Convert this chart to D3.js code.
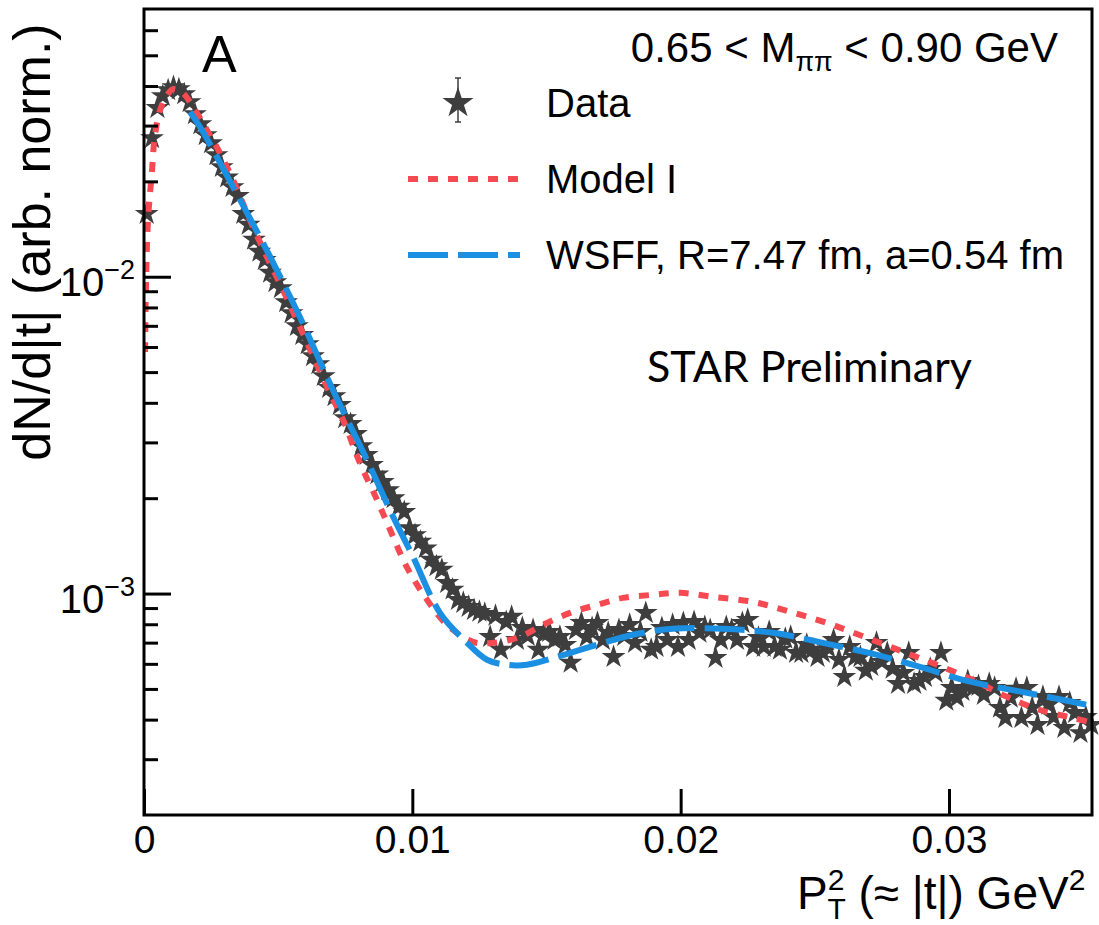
<!DOCTYPE html>
<html lang="en">
<head>
<meta charset="UTF-8">
<title>dN/d|t| vs pT2</title>
<script src="https://cdn.jsdelivr.net/npm/d3@7"></script>
<style>
    body { margin: 0; background: #fff; }
    text { font-family: "Liberation Sans", Arial, Helvetica, sans-serif; fill: #000; }
</style>
</head>
<body>
<div id="chart"></div>
<script>
// measured points, t in GeV^2, dN/d|t| arb. norm.
var dataT = [0.0001, 0.0003, 0.0005, 0.0007, 0.0009, 0.0011, 0.0013, 0.0015, 0.0017, 0.0019,
    0.0021, 0.0023, 0.0025, 0.0027, 0.0029, 0.0031, 0.0033, 0.0035, 0.0037, 0.0039,
    0.0041, 0.0043, 0.0045, 0.0047, 0.0049, 0.0051, 0.0053, 0.0055, 0.0057, 0.0059,
    0.0061, 0.0063, 0.0065, 0.0067, 0.0069, 0.0071, 0.0073, 0.0075, 0.0077, 0.0079,
    0.0081, 0.0083, 0.0085, 0.0087, 0.0089, 0.0091, 0.0093, 0.0095, 0.0097, 0.0099,
    0.0101, 0.0103, 0.0105, 0.0107, 0.0109, 0.0111, 0.0113, 0.0115, 0.0117, 0.0119,
    0.0121, 0.0123, 0.0125, 0.0127, 0.0129, 0.0131, 0.0133, 0.0135, 0.0137, 0.0139,
    0.0141, 0.0143, 0.0145, 0.0147, 0.0149, 0.0151, 0.0153, 0.0155, 0.0157, 0.0159,
    0.0161, 0.0163, 0.0165, 0.0167, 0.0169, 0.0171, 0.0173, 0.0175, 0.0177, 0.0179,
    0.0181, 0.0183, 0.0185, 0.0187, 0.0189, 0.0191, 0.0193, 0.0195, 0.0197, 0.0199,
    0.0201, 0.0203, 0.0205, 0.0207, 0.0209, 0.0211, 0.0213, 0.0215, 0.0217, 0.0219,
    0.0221, 0.0223, 0.0225, 0.0227, 0.0229, 0.0231, 0.0233, 0.0235, 0.0237, 0.0239,
    0.0241, 0.0243, 0.0245, 0.0247, 0.0249, 0.0251, 0.0253, 0.0255, 0.0257, 0.0259,
    0.0261, 0.0263, 0.0265, 0.0267, 0.0269, 0.0271, 0.0273, 0.0275, 0.0277, 0.0279,
    0.0281, 0.0283, 0.0285, 0.0287, 0.0289, 0.0291, 0.0293, 0.0295, 0.0297, 0.0299,
    0.0301, 0.0303, 0.0305, 0.0307, 0.0309, 0.0311, 0.0313, 0.0315, 0.0317, 0.0319,
    0.0321, 0.0323, 0.0325, 0.0327, 0.0329, 0.0331, 0.0333, 0.0335, 0.0337, 0.0339,
    0.0341, 0.0343, 0.0345, 0.0347, 0.0349, 0.0351, 0.0353];
var dataV = [0.0158, 0.0274, 0.0341, 0.0372, 0.0388, 0.0397, 0.0391, 0.0377, 0.0356, 0.0326,
    0.0303, 0.0280, 0.0264, 0.0242, 0.0222, 0.0206, 0.0192, 0.0180, 0.0158, 0.0146,
    0.0131, 0.0120, 0.0113, 0.0103, 0.00962, 0.00921, 0.00832, 0.00768, 0.00699, 0.00655,
    0.00613, 0.00562, 0.00530, 0.00486, 0.00446, 0.00420, 0.00394, 0.00358, 0.00343, 0.00319,
    0.00292, 0.00274, 0.00255, 0.00238, 0.00225, 0.00212, 0.00200, 0.00188, 0.00181, 0.00161,
    0.00153, 0.00146, 0.00139, 0.00128, 0.00122, 0.00119, 0.00108, 0.00103, 0.000955, 0.000935,
    0.000908, 0.000888, 0.000876, 0.000863, 0.000730, 0.000851, 0.000665, 0.000814, 0.000845, 0.000714,
    0.000779, 0.000735, 0.000768, 0.000665, 0.000746, 0.000757, 0.000714, 0.000730, 0.000689, 0.000605,
    0.000768, 0.000808, 0.000730, 0.000779, 0.000808, 0.000714, 0.000752, 0.000631, 0.000768, 0.000735,
    0.000797, 0.000699, 0.000757, 0.000869, 0.000665, 0.000679, 0.000779, 0.000714, 0.000797, 0.000679,
    0.000808, 0.000714, 0.000814, 0.000752, 0.000785, 0.000768, 0.000627, 0.000714, 0.000785, 0.000768,
    0.000714, 0.000808, 0.000826, 0.000679, 0.000725, 0.000679, 0.000757, 0.000679, 0.000665, 0.000720,
    0.000730, 0.000650, 0.000650, 0.000689, 0.000665, 0.000631, 0.000650, 0.000674, 0.000714, 0.000618,
    0.000546, 0.000679, 0.000631, 0.000631, 0.000571, 0.000591, 0.000699, 0.000609, 0.000650, 0.000579,
    0.000519, 0.000562, 0.000650, 0.000519, 0.000530, 0.000546, 0.000579, 0.000562, 0.000650, 0.000459,
    0.000504, 0.000469, 0.000493, 0.000530, 0.000504, 0.000511, 0.000479, 0.000519, 0.000504, 0.000436,
    0.000405, 0.000469, 0.000501, 0.000405, 0.000504, 0.000436, 0.000385, 0.000472, 0.000446, 0.000408,
    0.000472, 0.000377, 0.000452, 0.000420, 0.000363, 0.000408, 0.000385];

// Model I curve
var modelT = [0.00004, 0.00007, 0.00015, 0.0003, 0.0004, 0.0006, 0.00086, 0.00108, 0.00145, 0.00183,
    0.00235, 0.00283, 0.00332, 0.00395, 0.00458, 0.00518, 0.00581, 0.00682, 0.00742, 0.00805,
    0.00868, 0.00917, 0.0098, 0.01055, 0.01129, 0.01226, 0.01301, 0.01401, 0.01487, 0.01588,
    0.01688, 0.01785, 0.01897, 0.01998, 0.0212, 0.0227, 0.02408, 0.02545, 0.02694, 0.02829,
    0.02955, 0.03089, 0.03216, 0.03339, 0.03462, 0.03533];
var modelV = [0.00579, 0.00908, 0.0151, 0.0217, 0.0276, 0.0336, 0.0374, 0.0391, 0.0380, 0.0343,
    0.0290, 0.0246, 0.0202, 0.0151, 0.01154, 0.00908, 0.00694, 0.00449, 0.00353, 0.00258,
    0.00198, 0.00159, 0.00121, 0.000955, 0.000797, 0.000704, 0.000699, 0.000730, 0.000797, 0.000869,
    0.000921, 0.000969, 0.000991, 0.001005, 0.000976, 0.000941, 0.000876, 0.000808, 0.000725, 0.000655,
    0.000596, 0.000534, 0.000472, 0.000429, 0.000405, 0.000391];

// WSFF fit curve
var wsffT = [0.00171, 0.00209, 0.00332, 0.00458, 0.00581, 0.00704, 0.00831, 0.00928, 0.01002, 0.01103,
    0.01204, 0.01278, 0.01353, 0.01427, 0.01539, 0.01688, 0.01822, 0.01971, 0.02158, 0.02344,
    0.0253, 0.02717, 0.02892, 0.03067, 0.03253, 0.0344, 0.03533];
var wsffV = [0.0331, 0.0297, 0.0192, 0.0121, 0.00746, 0.00439, 0.00264, 0.00175, 0.00131, 0.000869,
    0.000699, 0.000618, 0.000596, 0.000596, 0.000631, 0.000689, 0.000741, 0.000774, 0.000774, 0.000752,
    0.000699, 0.000645, 0.000587, 0.000530, 0.000493, 0.000459, 0.000442];

var xTicks = [0, 0.01, 0.02, 0.03];
var yMajor = [1e-2, 1e-3];
var yMinor = [3e-4, 4e-4, 5e-4, 6e-4, 7e-4, 8e-4, 9e-4,
    2e-3, 3e-3, 4e-3, 5e-3, 6e-3, 7e-3, 8e-3, 9e-3,
    2e-2, 3e-2, 4e-2, 5e-2, 6e-2];
var yExp = {"0.01": "\u22122", "0.001": "\u22123"};

var width = 1099, height = 925;

var svg = d3.select("#chart").append("svg")
    .attr("width", width)
    .attr("height", height);

var x = d3.scaleLinear().domain([0, 0.03533]).range([144, 1092]);
var y = d3.scaleLog().domain([2e-4, 0.07]).range([815, 9]);

svg.append("clipPath").attr("id", "plot")
    .append("rect")
    .attr("x", x.range()[0]).attr("y", y.range()[1])
    .attr("width", x.range()[1] - x.range()[0])
    .attr("height", y.range()[0] - y.range()[1]);

// data stars
var starColor = "#3e3e3e";
svg.append("g")
    .selectAll("path")
    .data(d3.range(dataT.length))
    .enter()
    .append("path")
    .attr("transform", function (i) {
        return "translate(" + x(dataT[i]) + "," + y(dataV[i]) + ")";
    })
    .attr("d", d3.symbol(d3.symbolStar, 175))
    .attr("fill", starColor);

// curves
var line = d3.line()
    .x(function (d) { return x(d[0]); })
    .y(function (d) { return y(d[1]); })
    .curve(d3.curveCatmullRom.alpha(0.5));

var curves = svg.append("g").attr("clip-path", "url(#plot)");

curves.append("path")
    .datum(d3.zip(modelT, modelV))
    .attr("d", line)
    .attr("fill", "none")
    .attr("stroke", "#f64a53")
    .attr("stroke-width", 6)
    .attr("stroke-dasharray", "10,10");

curves.append("path")
    .datum(d3.zip(wsffT, wsffV))
    .attr("d", line)
    .attr("fill", "none")
    .attr("stroke", "#1b8fe1")
    .attr("stroke-width", 6)
    .attr("stroke-dasharray", "40,10");

// axes
var xAxis = svg.append("g")
    .attr("transform", "translate(0," + y.range()[0] + ")")
    .call(d3.axisBottom(x).tickValues(xTicks).tickSize(-26).tickPadding(10)
        .tickFormat(function (d) { return d === 0 ? "0" : d3.format(".2f")(d); }));
xAxis.select(".domain").remove();
xAxis.selectAll(".tick line").attr("stroke", "#000").attr("stroke-width", 3);
xAxis.selectAll(".tick text").style("font-size", "39px").attr("fill", "#000");

var yAxisMinor = svg.append("g")
    .attr("transform", "translate(" + x.range()[0] + ",0)")
    .call(d3.axisLeft(y).tickValues(yMinor).tickSize(-14).tickFormat(""));
yAxisMinor.select(".domain").remove();
yAxisMinor.selectAll(".tick line").attr("stroke", "#000").attr("stroke-width", 3);

var yAxis = svg.append("g")
    .attr("transform", "translate(" + x.range()[0] + ",0)")
    .call(d3.axisLeft(y).tickValues(yMajor).tickSize(-27).tickPadding(9).tickFormat(""));
yAxis.select(".domain").remove();
yAxis.selectAll(".tick line").attr("stroke", "#000").attr("stroke-width", 3);
yAxis.selectAll(".tick text")
    .attr("dy", "19px")
    .style("font-size", "40px")
    .attr("fill", "#000")
    .each(function (d) {
        var t = d3.select(this);
        t.append("tspan").text("10");
        t.append("tspan").attr("dy", "-17px").style("font-size", "27px").text(yExp[String(d)]);
    });

// frame
svg.append("rect")
    .attr("x", x.range()[0]).attr("y", y.range()[1])
    .attr("width", x.range()[1] - x.range()[0])
    .attr("height", y.range()[0] - y.range()[1])
    .attr("fill", "none")
    .attr("stroke", "#000")
    .attr("stroke-width", 3);

// axis titles
var xTitle = svg.append("text")
    .attr("x", 797).attr("y", 909)
    .style("font-size", "46px");
xTitle.append("tspan").text("P");
xTitle.append("tspan").attr("dy", -19).style("font-size", "30px").text("2");
xTitle.append("tspan").attr("dx", -17).attr("dy", 29).style("font-size", "30px").text("T");
xTitle.append("tspan").attr("dy", -10).text(" (\u2248 |t|) GeV");
xTitle.append("tspan").attr("dy", -19).style("font-size", "30px").text("2");

svg.append("text")
    .attr("transform", "translate(50,242) rotate(-90)")
    .attr("text-anchor", "middle")
    .style("font-size", "52px")
    .text("dN/d|t| (arb. norm.)");

// labels
svg.append("text")
    .attr("x", 202).attr("y", 72)
    .style("font-size", "52px")
    .text("A");

var mLabel = svg.append("text")
    .attr("x", 1058).attr("y", 62)
    .attr("text-anchor", "end")
    .style("font-size", "42px");
mLabel.append("tspan").text("0.65 < M");
mLabel.append("tspan").attr("dy", 9).style("font-size", "27px").text("\u03c0\u03c0");
mLabel.append("tspan").attr("dy", -9).text(" < 0.90 GeV");

svg.append("text")
    .attr("x", 647).attr("y", 382)
    .style("font-family", "Lato, 'Open Sans', sans-serif")
    .style("font-size", "43px")
    .text("STAR Preliminary");

// legend
var legend = svg.append("g");
legend.append("line")
    .attr("x1", 458).attr("x2", 458).attr("y1", 78).attr("y2", 122)
    .attr("stroke", starColor).attr("stroke-width", 1.5);
legend.selectAll("line.cap")
    .data([78, 122])
    .enter()
    .append("line")
    .attr("class", "cap")
    .attr("x1", 455).attr("x2", 461)
    .attr("y1", function (d) { return d; }).attr("y2", function (d) { return d; })
    .attr("stroke", starColor).attr("stroke-width", 1.5);
legend.append("path")
    .attr("transform", "translate(458,103)")
    .attr("d", d3.symbol(d3.symbolStar, 300))
    .attr("fill", starColor);
legend.append("line")
    .attr("x1", 408).attr("x2", 520).attr("y1", 179).attr("y2", 179)
    .attr("stroke", "#f64a53").attr("stroke-width", 6).attr("stroke-dasharray", "10,10");
legend.append("line")
    .attr("x1", 408).attr("x2", 520).attr("y1", 255).attr("y2", 255)
    .attr("stroke", "#1b8fe1").attr("stroke-width", 6).attr("stroke-dasharray", "40,10");

var legendText = ["Data", "Model I", "WSFF, R=7.47 fm, a=0.54 fm"];
var legendY = [117, 193, 269];
legend.selectAll("text")
    .data(legendText)
    .enter()
    .append("text")
    .attr("x", 546)
    .attr("y", function (d, i) { return legendY[i]; })
    .style("font-size", "40px")
    .text(function (d) { return d; });
</script>
</body>
</html>
